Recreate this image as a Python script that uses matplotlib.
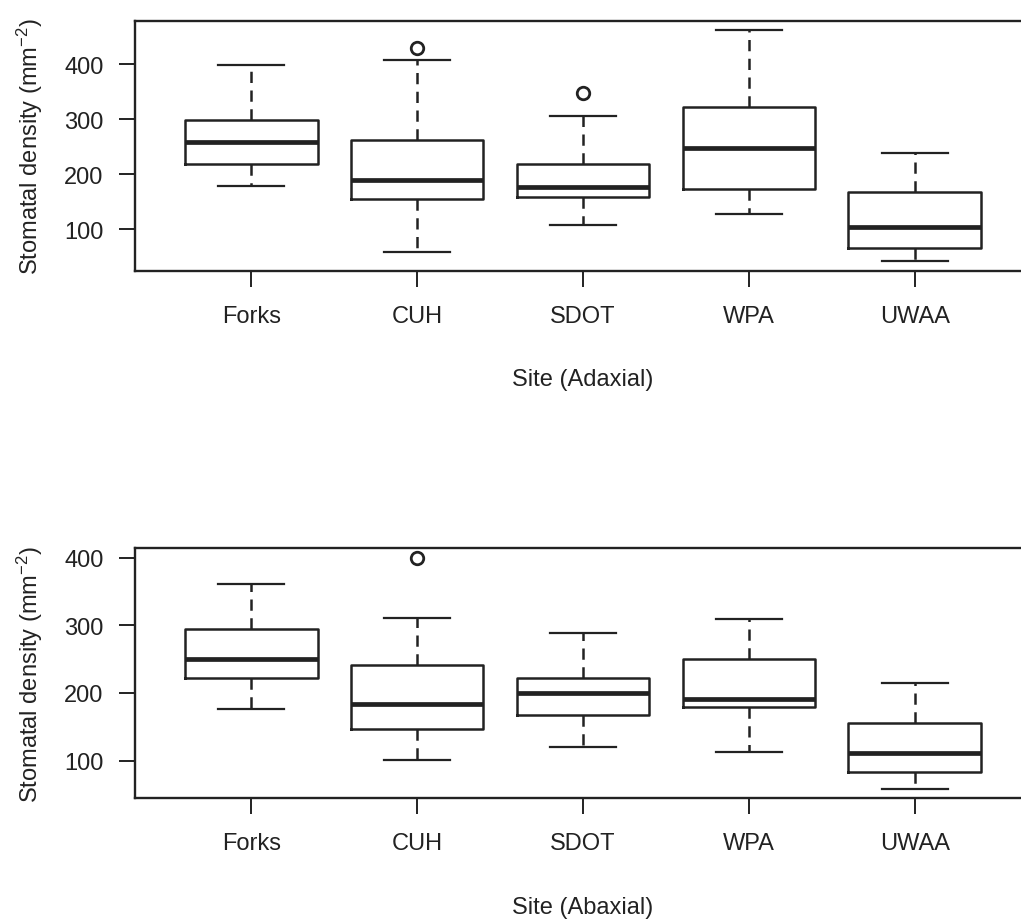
import matplotlib.pyplot as plt
import numpy as np

plt.rcParams['font.family'] = ['Liberation Sans', 'DejaVu Sans']
plt.rcParams['mathtext.fontset'] = 'custom'
plt.rcParams['mathtext.rm'] = 'Liberation Sans'
plt.rcParams['mathtext.it'] = 'Liberation Sans:italic'

sites = ['Forks', 'CUH', 'SDOT', 'WPA', 'UWAA']

# adaxial (top panel)
ad_whislo = [179, 58, 108, 128, 41]
ad_q1 = [219, 155, 159, 172, 65]
ad_med = [259, 190, 176, 247, 104]
ad_q3 = [299, 262, 219, 323, 167]
ad_whishi = [399, 407, 306, 462, 239]
ad_fliers = [[], [430], [347], [], []]

# abaxial (bottom panel)
ab_whislo = [176, 101, 120, 112, 58]
ab_q1 = [222, 146, 168, 179, 83]
ab_med = [250, 183, 200, 191, 111]
ab_q3 = [294, 242, 222, 250, 156]
ab_whishi = [361, 310, 289, 309, 215]
ab_fliers = [[], [400], [], [], []]

ink = '#222222'


def panel(ax, whislo, q1, med, q3, whishi, fliers, xlabel):
    stats = []
    for i in range(len(sites)):
        stats.append(dict(label=sites[i], whislo=whislo[i], q1=q1[i], med=med[i],
                          q3=q3[i], whishi=whishi[i], fliers=fliers[i]))
    ax.bxp(stats, positions=range(1, len(sites) + 1), widths=0.8, capwidths=0.4,
           boxprops=dict(color=ink, linewidth=1.8),
           medianprops=dict(color=ink, linewidth=3.4, solid_capstyle='butt'),
           whiskerprops=dict(color=ink, linewidth=1.8, linestyle=(0, (4.5, 3))),
           capprops=dict(color=ink, linewidth=1.6),
           flierprops=dict(marker='o', markersize=9, markerfacecolor='none',
                           markeredgecolor=ink, markeredgewidth=2))
    lo = min(whislo + [v for f in fliers for v in f])
    hi = max(whishi + [v for f in fliers for v in f])
    pad = 0.04 * (hi - lo)
    ax.set_ylim(lo - pad, hi + pad)
    ax.set_xlim(0.3, len(sites) + 0.7)
    ax.set_yticks([100, 200, 300, 400])
    ax.tick_params(axis='both', length=11.5, width=1.4, color=ink, labelsize=17,
                   labelcolor=ink)
    ax.tick_params(axis='x', pad=13)
    ax.tick_params(axis='y', pad=11)
    for s in ax.spines.values():
        s.set_linewidth(1.7)
        s.set_color(ink)
    ax.set_xlabel(xlabel, fontsize=17, color=ink, labelpad=30)
    ax.set_ylabel(r'Stomatal density (mm$^{-2}$)', fontsize=17, color=ink, labelpad=14)


fig = plt.figure(figsize=(10.21, 9.2), dpi=100)
ax1 = fig.add_axes([0.1322, 0.7047, 0.8776, 0.2714])
ax2 = fig.add_axes([0.1322, 0.1312, 0.8776, 0.2717])

panel(ax1, ad_whislo, ad_q1, ad_med, ad_q3, ad_whishi, ad_fliers, 'Site (Adaxial)')
panel(ax2, ab_whislo, ab_q1, ab_med, ab_q3, ab_whishi, ab_fliers, 'Site (Abaxial)')

fig.savefig('out.png', dpi=100)
